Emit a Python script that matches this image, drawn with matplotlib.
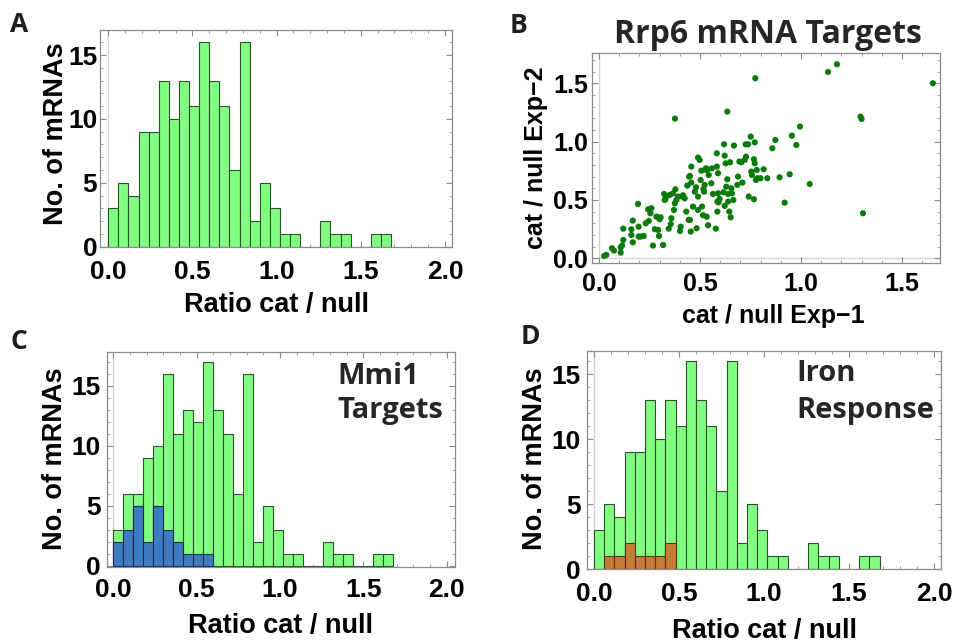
import matplotlib
matplotlib.use("Agg")
import matplotlib.pyplot as plt
import numpy as np
from matplotlib.ticker import MultipleLocator

# histogram bins (ratio cat / null), width 0.06 starting at 0
bin_width = 0.06

counts_all = [3, 5, 4, 9, 9, 13, 10, 13, 11, 16, 13, 11, 6, 16,
              2, 5, 3, 1, 1, 0, 0, 2, 1, 1, 0, 0, 1, 1]
counts_mmi1_total = [3, 6, 6, 9, 10, 16, 11, 13, 12, 17, 13, 11, 6, 16,
                     2, 5, 3, 1, 1, 0, 0, 2, 1, 1, 0, 0, 1, 1]
counts_mmi1 = [2, 3, 5, 2, 5, 3, 2, 1, 1, 1]
counts_iron = [0, 1, 1, 2, 1, 1, 1, 2]

# Rrp6 targets, two experiments
exp1 = [0.025, 0.036, 0.064, 0.074, 0.107, 0.114, 0.107, 0.120, 0.120, 0.160,
        0.160, 0.167, 0.167, 0.196, 0.196, 0.193, 0.205, 0.221, 0.231, 0.243,
        0.246, 0.259, 0.254, 0.267, 0.276, 0.292, 0.284, 0.297, 0.300, 0.305,
        0.317, 0.322, 0.325, 0.328, 0.335, 0.345, 0.350, 0.355, 0.358, 0.366,
        0.371, 0.375, 0.376, 0.378, 0.383, 0.391, 0.401, 0.404, 0.411, 0.416,
        0.424, 0.432, 0.437, 0.444, 0.446, 0.450, 0.450, 0.454, 0.457, 0.457,
        0.465, 0.474, 0.480, 0.483, 0.490, 0.490, 0.498, 0.503, 0.507, 0.510,
        0.515, 0.517, 0.520, 0.523, 0.526, 0.530, 0.533, 0.536, 0.540, 0.543,
        0.556, 0.564, 0.578, 0.583, 0.583, 0.586, 0.589, 0.589, 0.592, 0.597,
        0.616, 0.619, 0.622, 0.622, 0.627, 0.630, 0.635, 0.635, 0.639, 0.639,
        0.645, 0.649, 0.652, 0.655, 0.658, 0.665, 0.668, 0.685, 0.688, 0.695,
        0.705, 0.710, 0.721, 0.726, 0.728, 0.738, 0.741, 0.751, 0.754, 0.757,
        0.767, 0.771, 0.771, 0.774, 0.777, 0.781, 0.784, 0.799, 0.815, 0.833,
        0.858, 0.873, 0.894, 0.919, 0.944, 0.955, 0.977, 0.995, 1.043, 1.134,
        1.178, 1.295, 1.300, 1.307, 1.653, 0.767, 0.490, 0.559, 0.586]
exp2 = [0.020, 0.029, 0.086, 0.066, 0.094, 0.109, 0.049, 0.157, 0.254, 0.249,
        0.200, 0.137, 0.323, 0.271, 0.186, 0.466, 0.186, 0.191, 0.300, 0.420,
        0.320, 0.429, 0.386, 0.109, 0.249, 0.243, 0.357, 0.191, 0.334, 0.351,
        0.114, 0.551, 0.500, 0.506, 0.534, 0.254, 0.543, 0.294, 0.343, 0.557,
        0.414, 0.471, 1.197, 0.591, 0.500, 0.529, 0.234, 0.271, 0.529, 0.540,
        0.514, 0.400, 0.623, 0.329, 0.700, 0.706, 0.329, 0.229, 0.786, 0.649,
        0.443, 0.571, 0.609, 0.257, 0.529, 0.863, 0.843, 0.671, 0.751, 0.443,
        0.369, 0.594, 0.571, 0.629, 0.760, 0.771, 0.357, 0.757, 0.283, 0.714,
        0.643, 0.551, 0.254, 0.900, 0.786, 0.486, 0.729, 0.557, 0.480, 0.509,
        0.566, 0.977, 0.880, 0.449, 0.814, 0.614, 1.257, 0.677, 0.551, 0.486,
        0.400, 0.823, 0.351, 0.600, 0.557, 0.500, 0.966, 0.629, 0.700, 0.829,
        0.823, 0.649, 0.843, 0.977, 0.871, 0.977, 0.529, 1.043, 0.743, 0.714,
        0.849, 0.994, 0.814, 1.543, 0.671, 0.757, 0.686, 0.686, 0.763, 0.686,
        0.943, 1.014, 0.694, 0.477, 0.720, 1.051, 0.971, 1.129, 0.637, 1.597,
        1.663, 1.214, 1.194, 0.386, 1.500, 0.506, 0.414, 0.771, 0.400]

GREEN = "#80ff80"
GREEN_EDGE = "#2f4f2f"
BLUE = "#3e7cc2"
BLUE_EDGE = "#1b2c52"
BROWN = "#c47c36"
BROWN_EDGE = "#5a3314"
DOT = "#0a7a0a"
FRAME = "#8c8c8c"

W, H = 956, 642
plt.rcParams["font.family"] = ["Liberation Sans", "DejaVu Sans"]
plt.rcParams["font.weight"] = "bold"

fig = plt.figure(figsize=(W / 100, H / 100), dpi=100)


def add_axes_px(left, right, top, bottom):
    return fig.add_axes([left / W, 1 - bottom / H, (right - left) / W, (bottom - top) / H])


def fig_text(x, y, s, **kw):
    fig.text(x / W, 1 - y / H, s, **kw)


def style_frame(ax, xmajor, xminor, ymajor, yminor, size, xpad, ypad):
    for sp in ax.spines.values():
        sp.set_color(FRAME)
        sp.set_linewidth(0.9)
    ax.xaxis.set_major_locator(MultipleLocator(xmajor))
    ax.xaxis.set_minor_locator(MultipleLocator(xminor))
    ax.yaxis.set_major_locator(MultipleLocator(ymajor))
    ax.yaxis.set_minor_locator(MultipleLocator(yminor))
    ax.tick_params(which="both", direction="in", color=FRAME, top=True, right=True)
    ax.tick_params(which="major", length=4.5, width=0.8)
    ax.tick_params(which="minor", length=2.5, width=0.6)
    ax.tick_params(axis="x", which="major", labelsize=size, pad=xpad)
    ax.tick_params(axis="y", which="major", labelsize=size, pad=ypad)
    for lab in ax.get_xticklabels() + ax.get_yticklabels():
        lab.set_fontweight("bold")


def histogram(ax, counts, color=GREEN, edge=GREEN_EDGE):
    edges = np.arange(len(counts)) * bin_width
    ax.bar(edges, counts, width=bin_width, align="edge", color=color,
           edgecolor=edge, linewidth=0.8, zorder=2)


def format_hist_axis(ax, xlim, ylim, xpad, ypad):
    ax.axvline(0, color="#d4d4d4", lw=1.0, zorder=1)
    ax.set_xlim(*xlim)
    ax.set_ylim(*ylim)
    ax.xaxis.set_major_formatter(plt.FuncFormatter(lambda v, p: f"{v:.1f}"))
    ax.yaxis.set_major_formatter(plt.FuncFormatter(lambda v, p: f"{v:.0f}"))
    style_frame(ax, 0.5, 0.1, 5, 1, 19, xpad, ypad)


# --- A: all Rrp6 targets
ax_a = add_axes_px(100, 451.7, 30, 247.3)
histogram(ax_a, counts_all)
format_hist_axis(ax_a, (-0.049, 2.04), (-0.05, 16.96), 9, 2)

# --- B: reproducibility between experiments
ax_b = add_axes_px(592, 939.7, 53.3, 263.3)
ax_b.axvline(0, color="#d4d4d4", lw=1.0, zorder=1)
ax_b.axhline(0, color="#d4d4d4", lw=1.0, zorder=1)
ax_b.scatter(exp1, exp2, s=20, color=DOT, edgecolors="none", zorder=3)
ax_b.set_xlim(-0.035, 1.687)
ax_b.set_ylim(-0.043, 1.757)
ax_b.xaxis.set_major_formatter(plt.FuncFormatter(lambda v, p: f"{v:.1f}"))
ax_b.yaxis.set_major_formatter(plt.FuncFormatter(lambda v, p: f"{v:.1f}"))
style_frame(ax_b, 0.5, 0.1, 0.5, 0.1, 18, 6, 3)

# --- C: Mmi1 targets highlighted
ax_c = add_axes_px(106.7, 455, 352, 566.7)
histogram(ax_c, counts_mmi1_total)
histogram(ax_c, counts_mmi1, BLUE, BLUE_EDGE)
format_hist_axis(ax_c, (-0.04, 2.05), (-0.06, 17.83), 8, 4.5)

# --- D: iron response genes highlighted
ax_d = add_axes_px(587, 941.3, 351, 569.3)
histogram(ax_d, counts_all)
histogram(ax_d, counts_iron, BROWN, BROWN_EDGE)
format_hist_axis(ax_d, (-0.041, 2.043), (0, 16.8), 9.5, 4.5)

# axis labels
lab_kw = dict(fontsize=19.5, fontweight="bold", color="black")
rot_kw = dict(ha="center", va="baseline", rotation=90, rotation_mode="anchor")
fig_text(276, 311.7, "Ratio cat / null", ha="center", va="baseline", **lab_kw)
fig_text(281, 632.7, "Ratio cat / null", ha="center", va="baseline", **lab_kw)
fig_text(765, 637.7, "Ratio cat / null", ha="center", va="baseline", **lab_kw)
fig_text(63.5, 133.5, "No. of mRNAs", **rot_kw, **lab_kw)
fig_text(62, 459, "No. of mRNAs", **rot_kw, **lab_kw)
fig_text(542, 459, "No. of mRNAs", **rot_kw, **lab_kw)
fig_text(773, 323, "cat / null Exp\u22121", ha="center", va="baseline",
         fontsize=18, fontweight="bold")
fig_text(543, 158, "cat / null Exp\u22122", **rot_kw, fontsize=18, fontweight="bold")

# titles and in-panel annotations
ann_kw = dict(family=["Open Sans", "DejaVu Sans"], fontweight="bold", color="#262626")
fig_text(768, 43.3, "Rrp6 mRNA Targets", ha="center", va="baseline", fontsize=23, **ann_kw)
fig_text(337, 384, "Mmi1", ha="left", va="baseline", fontsize=21, **ann_kw)
fig_text(337, 418, "Targets", ha="left", va="baseline", fontsize=21, **ann_kw)
fig_text(796, 381, "Iron", ha="left", va="baseline", fontsize=21, **ann_kw)
fig_text(796, 418, "Response", ha="left", va="baseline", fontsize=21, **ann_kw)

# panel letters
let_kw = dict(family=["Open Sans", "DejaVu Sans"], fontweight="bold", color="#1e1e1e",
              fontsize=19, ha="left", va="baseline")
fig_text(10, 32, "A", **let_kw)
fig_text(510, 33, "B", **let_kw)
fig_text(10, 349, "C", **let_kw)
fig_text(521, 344, "D", **let_kw)

fig.savefig("out.png", dpi=100)
